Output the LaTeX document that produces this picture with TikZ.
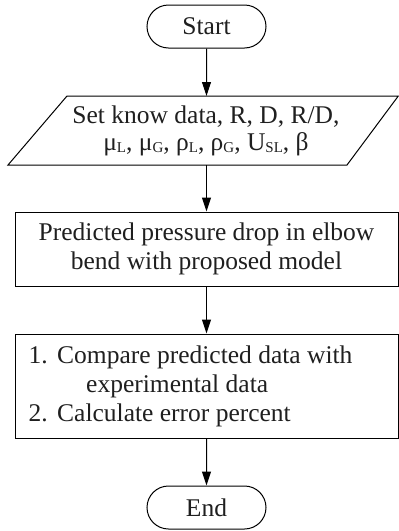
\documentclass[tikz,border=0pt]{standalone}
\usepackage{fontspec}
\setmainfont{Liberation Serif}
\usetikzlibrary{arrows.meta,shapes.misc}
\newcommand{\lowsub}[1]{\raisebox{-2pt}{\fontsize{15}{15}\selectfont #1}}
\begin{document}
\begin{tikzpicture}[x=1pt,y=-1pt,
  every node/.style={font=\fontsize{25.5}{29}\selectfont, text=black!88},
  term/.style={draw, rounded rectangle, minimum width=119pt, minimum height=43pt, line width=1pt, inner sep=0pt},
  proc/.style={draw, rectangle, minimum width=383pt, line width=1pt, inner sep=0pt, align=center},
  conn/.style={line width=1pt, -{Triangle[length=14pt,width=9pt]}}]
\useasboundingbox (0,0) rectangle (399,531);
\node[term] (start) at (206.5,26.5) {Start};
\draw[line width=1pt] (67,96) -- (398.3,96) -- (347,165) -- (8,165) -- cycle;
\coordinate (dtop) at (206.5,96);
\coordinate (dbot) at (206.5,165);
\node[align=center, inner sep=0pt, font=\fontsize{25.5}{27.5}\selectfont] (data) at (206,131) {Set know data, R, D, R/D,\\ μ\lowsub{L}, μ\lowsub{G}, ρ\lowsub{L}, ρ\lowsub{G}, U\lowsub{SL}, β};
\node[proc, minimum height=74pt] (pred) at (206.5,249) {Predicted pressure drop in elbow\\bend with proposed model};
\node[proc, minimum height=104pt] (comp) at (206.5,386) {};
\node[align=left, anchor=west, inner sep=0pt] (comptext) at (28.5,386) {\makebox[28.5pt][l]{1.}Compare predicted data with\\\hspace*{57.5pt}experimental data\\\makebox[28.5pt][l]{2.}Calculate error percent};
\node[term] (end) at (206.5,507.5) {End};
\draw[conn] (start) -- (dtop);
\draw[conn] (dbot) -- (pred);
\draw[conn] (pred) -- (comp);
\draw[conn] (comp) -- (end);
\end{tikzpicture}
\end{document}
